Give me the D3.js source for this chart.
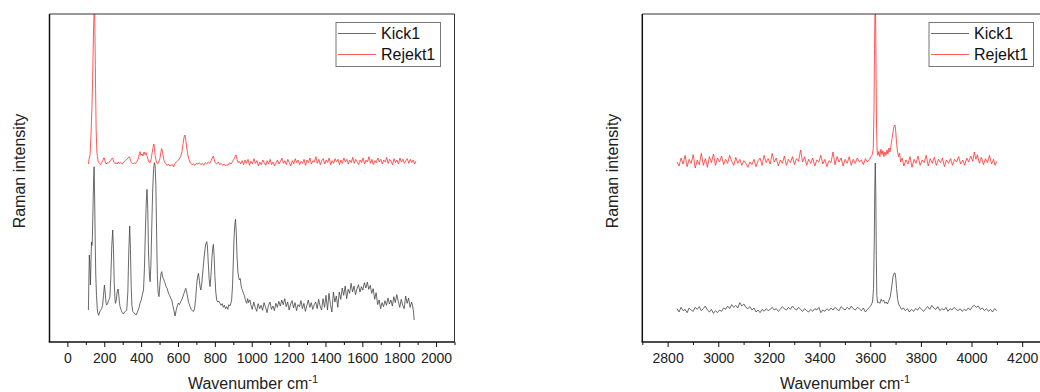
<!DOCTYPE html>
<html>
<head>
<meta charset="utf-8">
<script src="https://cdn.jsdelivr.net/npm/d3@7"></script>
<style>
  html, body { margin: 0; padding: 0; background: #fff; }
  svg { display: block; font-family: Arial, "Liberation Sans", sans-serif; }
</style>
</head>
<body>
<div id="chart"></div>
<script>
// --- Data (wavenumber cm-1, intensity in arbitrary offset units) ---
const seriesNames = ['Kick1', 'Rejekt1'];
const seriesColors = ['#444444', '#ff3030'];

const lowTicks = [0, 200, 400, 600, 800, 1000, 1200, 1400, 1600, 1800, 2000];
const highTicks = [2800, 3000, 3200, 3400, 3600, 3800, 4000, 4200];

const kickLow = [
  [114,96],[117,200],[119,261],[122,230],[125,171],[128,240],[131,300],[134,290],[136,321],[139,400],[142,480],[145,526],[148,430],[151,300],[154,200],[158,140],[162,100],[166,85],[170,80],[175,90],[180,95],[186,100],[191,110],[196,140],[201,171],[205,150],[209,120],[213,111],[218,115],[223,125],[228,130],[231,136],[236,200],[241,290],[246,336],[250,280],[254,180],[258,130],[261,116],[265,125],[270,150],[275,159],[279,140],[283,115],[286,106],[292,95],[298,88],[304,84],[310,90],[316,92],[322,96],[328,150],[333,270],[338,348],[342,280],[346,170],[350,110],[355,91],[360,88],[366,85],[373,81],[380,90],[387,100],[394,116],[400,125],[406,140],[413,156],[418,220],[423,330],[428,420],[432,458],[436,400],[440,270],[445,200],[449,181],[453,230],[458,350],[463,460],[468,520],[472,538],[476,530],[480,470],[484,330],[488,200],[492,150],[497,136],[503,180],[508,205],[512,211],[517,195],[521,190],[526,182],[530,177],[536,165],[542,160],[548,147],[554,140],[560,132],[566,126],[572,110],[578,95],[584,78],[590,95],[596,108],[602,117],[608,112],[614,120],[620,126],[626,135],[632,145],[638,155],[642,161],[647,150],[652,135],[658,118],[666,106],[672,98],[678,94],[684,91],[690,100],[696,130],[701,170],[706,195],[711,206],[716,185],[720,165],[724,156],[730,180],[736,220],[742,255],[748,285],[752,296],[756,301],[760,285],[764,240],[769,190],[774,166],[779,200],[784,250],[788,280],[792,293],[796,260],[800,200],[805,150],[810,126],[816,120],[822,122],[828,116],[834,110],[840,115],[846,104],[852,110],[858,100],[864,106],[870,98],[876,112],[882,108],[888,118],[891,126],[896,170],[900,240],[904,310],[908,350],[912,368],[916,330],[920,260],[925,210],[929,195],[933,186],[938,190],[942,170],[946,160],[950,155],[955,146],[960,140],[965,128],[969,120],[973,116],[978,130],[983,118],[987,125],[991,126],
  [995,112],[1003,98],[1011,120],[1019,104],[1027,92],[1035,115],[1043,100],[1051,110],[1059,95],[1067,118],[1075,104],[1083,88],[1091,110],[1099,120],[1107,98],[1115,108],[1123,94],
  [1131,116],[1139,104],[1147,122],[1155,108],[1163,126],[1171,112],[1179,130],[1187,106],[1195,120],[1203,96],[1211,114],[1219,124],[1227,102],[1235,118],[1243,94],[1251,112],
  [1259,106],[1267,124],[1275,100],[1283,116],[1291,92],[1299,110],[1307,126],[1315,104],[1323,118],[1331,98],[1339,112],[1347,120],[1355,100],[1363,128],[1371,108],[1379,96],
  [1387,130],[1395,104],[1403,140],[1411,96],[1419,146],[1427,112],[1435,90],[1443,150],[1451,120],[1459,138],
  [1467,104],[1475,150],[1483,128],[1491,162],[1499,140],[1507,168],[1515,130],[1523,158],[1531,146],[1539,176],
  [1547,150],[1555,168],[1563,142],[1571,160],[1579,172],[1587,150],[1595,166],[1603,156],[1611,178],[1619,162],[1627,180],[1635,158],[1643,170],[1651,146],
  [1659,160],[1667,128],[1675,148],[1683,112],[1691,126],[1699,100],[1707,118],[1715,106],[1723,124],
  [1731,110],[1739,132],[1747,114],[1755,126],[1763,108],[1771,136],[1779,118],[1787,142],[1795,122],[1803,104],[1811,128],[1819,110],[1827,100],[1835,138],[1843,116],[1851,132],[1859,104],[1867,120],[1873,108],[1878,90],[1881,66]
];

const rejektLow = [
  [114,534],[118,550],[123,561],[128,620],[133,700],[137,790],[140,880],[143,960],[146,1010],[148,1000],[150,900],[153,760],[156,640],[160,570],[163,556],[168,540],[174,536],[180,532],[186,538],[192,544],[197,552],[201,552],[205,540],[210,534],[216,538],[222,536],[228,540],[234,544],[240,550],[246,552],[252,540],[258,535],[264,538],[270,534],[276,540],[282,536],[290,538],[298,534],[306,540],[314,544],[322,548],[330,552],[337,556],[342,545],[348,538],[355,534],[362,538],[370,535],[378,542],[385,550],[390,565],[394,571],[399,560],[404,564],[410,558],[416,570],[422,562],[427,568],[431,560],[436,550],[442,540],[449,538],[455,550],[460,568],[465,584],[469,594],[472,584],[476,560],[481,545],[486,536],[490,534],[496,540],[502,550],[507,568],[511,580],[515,574],[519,560],[524,545],[530,538],[536,534],[542,530],[548,534],[556,528],[564,530],[570,532],[576,525],[582,534],[590,540],[598,544],[606,548],[614,556],[622,572],[628,596],[633,615],[638,621],[643,604],[648,580],[654,560],[660,548],[668,536],[676,532],[684,534],[692,530],[700,536],[708,534],[716,538],[724,532],[732,536],[740,530],[748,538],[756,534],[764,540],[772,536],[780,544],[786,552],[792,558],[797,546],[802,538],[810,534],[818,540],[826,532],[834,536],[842,530],[850,534],[858,528],[865,532],[872,530],[880,538],[888,534],[896,542],[903,548],[909,556],[915,561],[920,548],[926,538],[932,542],[940,534],
  [948,544],[956,532],[964,546],[972,536],[980,548],[988,530],[996,542],[1004,534],[1012,550],[1020,536],[1028,544],[1036,528],[1044,540],[1052,532],[1060,546],[1068,538],[1076,530],[1084,544],[1092,534],[1100,548],[1108,532],[1116,540],[1124,528],[1132,538],[1140,546],[1148,534],[1156,542],[1164,552],[1172,536],[1180,544],[1188,532],[1196,548],[1204,538],[1212,528],[1220,544],[1228,534],[1236,550],[1244,538],[1252,546],[1260,532],[1268,542],[1276,536],[1284,548],[1292,530],[1300,546],[1308,538],[1316,552],[1324,534],[1332,544],[1340,540],[1348,556],[1356,536],[1364,548],[1372,532],[1380,544],[1388,550],[1396,534],[1404,546],[1412,538],[1420,552],[1428,532],[1436,544],[1444,536],[1452,550],[1460,540],[1468,548],[1476,532],[1484,546],[1492,536],[1500,552],[1508,540],[1516,548],[1524,534],[1532,546],[1540,538],[1548,554],[1556,536],[1564,548],[1572,540],[1580,532],[1588,546],[1596,538],[1604,552],[1612,534],[1620,546],[1628,540],[1636,556],[1644,536],[1652,548],[1660,532],[1668,544],[1676,538],[1684,552],[1692,540],[1700,548],[1708,534],[1716,546],[1724,540],[1732,554],[1740,536],[1748,548],[1756,542],[1764,532],[1772,550],[1780,538],[1788,546],[1796,534],[1804,552],[1812,540],[1820,548],[1828,536],[1836,544],[1844,550],[1852,536],[1860,548],[1868,538],[1876,546],[1884,534],[1890,542]
];

const kickHigh = [
  [2837,100],[2845,90],[2853,104],[2861,94],[2869,98],[2877,88],[2885,102],[2893,96],[2901,92],[2909,104],[2917,98],[2925,106],[2933,94],[2941,100],[2949,108],[2957,96],[2965,90],[2973,98],[2981,86],[2989,94],[2997,88],[3005,96],[3013,92],[3021,102],[3029,98],[3037,108],[3045,100],[3053,112],[3061,104],[3069,110],[3077,102],[3085,118],[3093,108],[3101,114],[3109,104],[3117,100],[3125,106],[3133,96],[3141,102],[3149,90],[3157,96],[3165,88],[3173,98],[3181,92],[3189,100],[3197,94],[3205,98],[3213,104],[3221,96],[3229,100],[3237,92],[3245,98],[3253,106],[3261,100],[3269,96],[3277,104],[3285,98],[3293,108],[3301,100],[3309,96],[3317,104],[3325,98],[3333,92],[3341,100],[3349,94],[3357,90],[3365,98],[3373,92],[3381,100],[3389,96],[3397,104],[3405,88],[3413,96],[3421,92],[3429,100],[3437,94],[3445,102],[3453,96],[3461,104],[3469,98],[3477,94],[3485,106],[3493,100],[3501,96],[3509,104],[3517,98],[3525,108],[3533,100],[3541,96],[3549,104],[3557,100],[3565,94],[3573,102],[3581,90],[3589,98],[3597,104],[3603,110],[3609,120],[3613,160],[3616,300],[3618,460],[3620,537],[3622,450],[3624,260],[3626,140],[3629,118],[3633,120],[3638,116],[3643,128],[3648,122],[3653,126],[3658,116],[3663,120],[3668,114],[3673,124],[3678,132],[3682,150],[3686,172],[3690,196],[3694,206],[3698,207],[3701,190],[3704,160],[3708,130],[3712,114],[3718,106],[3724,98],[3731,102],[3739,94],[3747,100],[3755,90],[3763,98],[3771,92],[3779,100],[3787,96],[3795,104],[3803,98],[3811,92],[3819,100],[3827,106],[3835,98],[3843,110],[3851,102],[3859,98],[3867,106],[3875,94],[3883,100],[3891,96],[3899,104],[3907,92],[3915,100],[3923,96],[3931,104],[3939,98],[3947,94],[3955,100],[3963,92],[3971,98],[3979,94],[3987,102],[3995,96],[4003,106],[4011,110],[4019,104],[4027,108],[4035,98],[4043,102],[4051,94],[4059,100],[4067,92],[4075,98],[4083,90],[4091,100],[4100,94]
];

const rejektHigh = [
  [2837,540],[2845,528],[2853,552],[2861,534],[2869,560],[2877,526],[2885,548],[2893,536],[2901,562],[2909,522],[2917,546],[2925,532],[2933,566],[2941,530],[2949,550],[2957,524],[2965,556],[2973,538],[2981,564],[2989,530],[2997,552],[3005,540],[3013,558],[3021,532],[3029,548],[3037,536],[3045,560],[3053,542],[3061,530],[3069,554],[3077,536],[3085,548],[3093,530],[3101,544],[3109,536],[3117,524],[3125,540],[3133,532],[3141,548],[3149,526],[3157,544],[3165,552],[3173,530],[3181,560],[3189,538],[3197,550],[3205,534],[3213,566],[3221,540],[3229,552],[3237,528],[3245,546],[3253,536],[3261,558],[3269,530],[3277,548],[3285,538],[3293,556],[3301,532],[3309,550],[3317,542],[3325,576],[3333,540],[3341,556],[3349,530],[3357,548],[3365,536],[3373,552],[3381,528],[3389,546],[3397,540],[3405,560],[3413,534],[3421,548],[3429,526],[3437,544],[3445,538],[3453,570],[3461,532],[3469,556],[3477,540],[3485,552],[3493,528],[3501,548],[3509,536],[3517,556],[3525,530],[3533,548],[3541,536],[3549,552],[3557,540],[3565,546],[3573,532],[3581,550],[3589,540],[3597,548],[3603,556],[3608,562],[3612,580],[3615,700],[3617,880],[3619,1010],[3621,1010],[3623,820],[3625,640],[3627,575],[3630,560],[3634,572],[3638,556],[3642,578],[3646,562],[3650,574],[3654,556],[3658,570],[3662,560],[3666,576],[3670,564],[3674,582],[3678,570],[3682,590],[3686,610],[3690,630],[3694,648],[3698,651],[3701,630],[3704,596],[3708,570],[3712,556],[3716,566],[3720,540],[3726,552],[3733,528],[3741,546],[3749,534],[3757,556],[3765,524],[3773,548],[3781,536],[3789,558],[3797,530],[3805,546],[3813,538],[3821,560],[3829,528],[3837,550],[3845,536],[3853,554],[3861,530],[3869,548],[3877,538],[3885,552],[3893,526],[3901,546],[3909,536],[3917,550],[3925,530],[3933,548],[3941,540],[3949,556],[3957,534],[3965,546],[3973,530],[3981,552],[3989,540],[3997,558],[4005,542],[4011,570],[4017,548],[4023,562],[4031,536],[4039,554],[4047,532],[4055,550],[4063,538],[4071,560],[4079,534],[4087,548],[4093,530],[4100,542]
];

// --- Layout ---
const width = 1040, height = 392;
const plotTop = 14, plotBottom = 342;
const yMax = 984;

const panels = [
  { id: 'low', left: 49.5, right: 454.5, domain: [-97, 2100], ticks: lowTicks, minorStep: 100,
    series: [kickLow, rejektLow], yLabelX: 19, xLabelX: 253 },
  { id: 'high', left: 642.3, right: 1047.5, domain: [2700, 4300], ticks: highTicks, minorStep: 100,
    series: [kickHigh, rejektHigh], yLabelX: 612.5, xLabelX: 845 }
];

const svg = d3.select('#chart').append('svg')
  .attr('width', width)
  .attr('height', height);

const defs = svg.append('defs');

panels.forEach(p => {
  const x = d3.scaleLinear().domain(p.domain).range([p.left, p.right]);
  const y = d3.scaleLinear().domain([0, yMax]).range([plotBottom, plotTop]);

  defs.append('clipPath').attr('id', 'clip-' + p.id)
    .append('rect')
    .attr('x', p.left).attr('y', plotTop)
    .attr('width', p.right - p.left).attr('height', plotBottom - plotTop);

  const g = svg.append('g');

  // spectra
  const line = d3.line().x(d => x(d[0])).y(d => y(d[1]));
  const plot = g.append('g').attr('clip-path', `url(#clip-${p.id})`);
  p.series.forEach((s, i) => {
    plot.append('path')
      .datum(s)
      .attr('fill', 'none')
      .attr('stroke', seriesColors[i])
      .attr('stroke-width', 0.8)
      .attr('stroke-linejoin', 'round')
      .attr('d', line);
  });

  // frame: top and right thin, left and bottom axes heavier
  g.append('line')
    .attr('x1', p.left).attr('x2', p.right)
    .attr('y1', plotTop).attr('y2', plotTop)
    .attr('stroke', '#333').attr('stroke-width', 1);
  g.append('line')
    .attr('x1', p.right).attr('x2', p.right)
    .attr('y1', plotTop).attr('y2', plotBottom)
    .attr('stroke', '#333').attr('stroke-width', 1);
  g.append('line')
    .attr('x1', p.left).attr('x2', p.left)
    .attr('y1', plotTop).attr('y2', plotBottom)
    .attr('stroke', '#111').attr('stroke-width', 1.5);

  // minor ticks
  const minor = d3.range(Math.ceil(p.domain[0] / p.minorStep) * p.minorStep, p.domain[1] + 1, p.minorStep)
    .filter(v => !p.ticks.includes(v));
  g.append('g')
    .attr('transform', `translate(0,${plotBottom})`)
    .call(d3.axisBottom(x).tickValues(minor).tickSize(3).tickFormat(''))
    .call(a => a.select('.domain').remove())
    .call(a => a.selectAll('line').attr('stroke', '#111').attr('stroke-width', 1));

  // major ticks
  g.append('g')
    .attr('transform', `translate(0,${plotBottom})`)
    .call(d3.axisBottom(x).tickValues(p.ticks).tickSize(5).tickPadding(6).tickFormat(d3.format('d')))
    .call(a => a.select('.domain').remove())
    .call(a => a.selectAll('line').attr('stroke', '#111').attr('stroke-width', 1))
    .call(a => a.selectAll('text')
      .attr('fill', '#222')
      .style('font-size', '14px')
      .style('font-family', 'Arial, "Liberation Sans", sans-serif'));

  g.append('line')
    .attr('x1', p.left - 0.75).attr('x2', p.right)
    .attr('y1', plotBottom).attr('y2', plotBottom)
    .attr('stroke', '#111').attr('stroke-width', 1.5);

  // axis titles
  g.append('text')
    .attr('transform', `translate(${p.yLabelX},171) rotate(-90)`)
    .attr('text-anchor', 'middle')
    .attr('dy', '0.35em')
    .attr('fill', '#222')
    .style('font-size', '16px')
    .text('Raman intensity');

  const xt = g.append('text')
    .attr('x', p.xLabelX)
    .attr('y', 389)
    .attr('text-anchor', 'middle')
    .attr('fill', '#222')
    .style('font-size', '16px');
  xt.append('tspan').text('Wavenumber cm');
  xt.append('tspan').attr('dy', -6).style('font-size', '11px').text('-1');

  // legend
  const lx = p.right - 118.5;
  const leg = g.append('g').attr('transform', `translate(${lx},22.5)`);
  leg.append('rect')
    .attr('width', 104.5).attr('height', 44)
    .attr('fill', '#fff')
    .attr('stroke', '#777')
    .attr('stroke-width', 1);
  seriesNames.forEach((name, i) => {
    const yy = 11 + i * 21;
    leg.append('line')
      .attr('x1', 2).attr('x2', 40)
      .attr('y1', yy).attr('y2', yy)
      .attr('stroke', seriesColors[i])
      .attr('stroke-width', 0.8);
    leg.append('text')
      .attr('x', 45)
      .attr('y', yy)
      .attr('dy', '0.35em')
      .attr('fill', '#111')
      .style('font-size', '16px')
      .text(name);
  });
});
</script>
</body>
</html>
